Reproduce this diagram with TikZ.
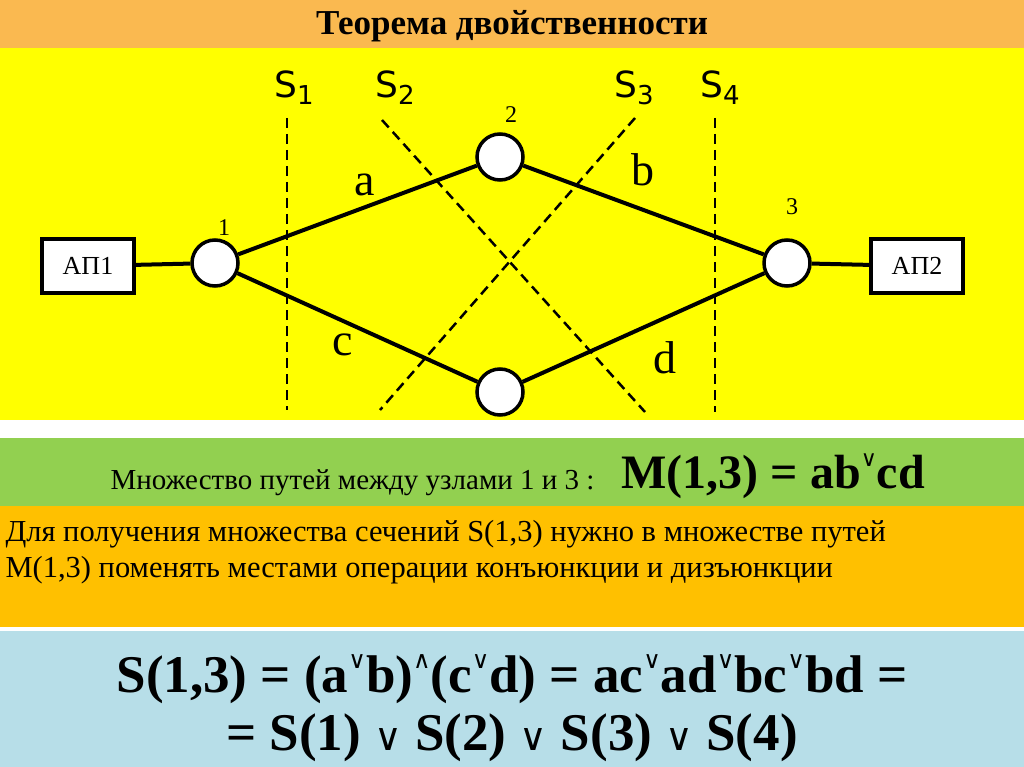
\documentclass[tikz,border=0pt]{standalone}
\usepackage{fontspec}
\setmainfont{Liberation Serif}
\newfontfamily\sfn{DejaVu Sans}
\newcommand{\orv}[1]{{\mdseries\sfn\fontsize{#1}{#1}\selectfont ∨}}
\newcommand{\orup}[1]{\raisebox{0.45em}{\mdseries\sfn\fontsize{#1}{#1}\selectfont ∨}}
\newcommand{\andup}[1]{\raisebox{0.45em}{\mdseries\sfn\fontsize{#1}{#1}\selectfont ∧}}
\begin{document}
\begin{tikzpicture}[x=1pt,y=-1pt,
  circ/.style={circle,draw,line width=3.5pt,fill=white,minimum size=46pt,inner sep=0},
  apbox/.style={draw,line width=3.5pt,fill=white,minimum width=92pt,minimum height=54pt,font=\fontsize{26}{28}\selectfont},
  edge/.style={line width=4pt},
  cut/.style={line width=2.5pt,dash pattern=on 10pt off 6pt},
  slab/.style={font=\sfn\fontsize{36}{38}\selectfont},
  elab/.style={font=\fontsize{46}{48}\selectfont},
  nlab/.style={font=\fontsize{24}{26}\selectfont}]
\useasboundingbox (0,0) rectangle (1024,767);
\fill[white] (0,0) rectangle (1024,767);
\fill[color={rgb,255:red,255;green,255;blue,0}] (0,48) rectangle (1024,420);
\fill[color={rgb,255:red,146;green,208;blue,80}] (0,438) rectangle (1024,506);
\fill[color={rgb,255:red,255;green,192;blue,0}] (0,506) rectangle (1024,627);
\fill[color={rgb,255:red,183;green,222;blue,232}] (0,631) rectangle (1024,767);
\fill[color={rgb,255:red,250;green,185;blue,80}] (0,0) rectangle (1024,48);
\node[font=\bfseries\fontsize{35}{37}\selectfont] (title) at (512,26) {Теорема двойственности};
% cuts
\coordinate (s1a) at (287,118); \coordinate (s1b) at (287,410);
\coordinate (s2a) at (382,120); \coordinate (s2b) at (645,412);
\coordinate (s3a) at (635,118); \coordinate (s3b) at (380,410);
\coordinate (s4a) at (715,118); \coordinate (s4b) at (715,412);
\draw[cut] (s1a) -- (s1b); \draw[cut] (s2a) -- (s2b);
\draw[cut] (s3a) -- (s3b); \draw[cut] (s4a) -- (s4b);
\node[slab] (S1) at (294,88) {S\raisebox{-7pt}{\fontsize{26}{26}\selectfont 1}};
\node[slab] (S2) at (395,88) {S\raisebox{-7pt}{\fontsize{26}{26}\selectfont 2}};
\node[slab] (S3) at (634,88) {S\raisebox{-7pt}{\fontsize{26}{26}\selectfont 3}};
\node[slab] (S4) at (720,88) {S\raisebox{-7pt}{\fontsize{26}{26}\selectfont 4}};
% nodes
\node[apbox] (ap1) at (88,266) {АП1};
\node[apbox] (ap2) at (917,266) {АП2};
\node[circ] (n1) at (215,263) {};
\node[circ] (n2) at (500,157) {};
\node[circ] (n3) at (787,263) {};
\node[circ] (n4) at (500,392) {};
\draw[edge] (ap1) -- (n1); \draw[edge] (n3) -- (ap2);
\draw[edge] (n1) -- (n2); \draw[edge] (n2) -- (n3);
\draw[edge] (n1) -- (n4); \draw[edge] (n4) -- (n3);
\node[nlab] (l1) at (224,228) {1};
\node[nlab] (l2) at (511,115) {2};
\node[nlab] (l3) at (792,207) {3};
\node[elab] (la) at (365,185) {a};
\node[elab] (lb) at (643,170) {b};
\node[elab] (lc) at (343,345) {c};
\node[elab] (ld) at (665,358) {d};
% texts
\node[anchor=east,font=\fontsize{29}{31}\selectfont] (t1) at (598,483) {Множество путей между узлами 1 и 3 :};
\node[anchor=west,font=\bfseries\fontsize{48}{50}\selectfont] (t2) at (618,476) {M(1,3) = ab\orup{22}cd};
\node[anchor=west,align=left,font=\fontsize{30.5}{36}\selectfont] (t3) at (2,552) {Для получения множества сечений S(1,3) нужно в множестве путей\\M(1,3) поменять местами операции конъюнкции и дизъюнкции};
\node[align=center,font=\bfseries\fontsize{53}{58}\selectfont] (t4) at (512,708) {S(1,3) = (a\orup{24}b)\andup{24}(c\orup{24}d) = ac\orup{24}ad\orup{24}bc\orup{24}bd =\\= S(1) \orv{38} S(2) \orv{38} S(3) \orv{38} S(4)};
\end{tikzpicture}
\end{document}
